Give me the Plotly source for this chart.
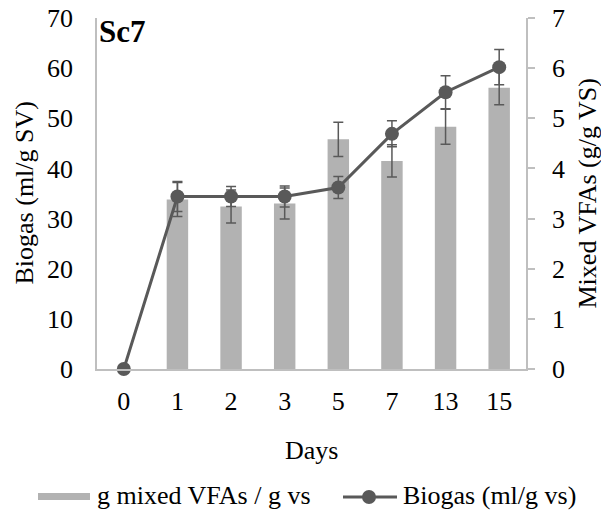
import plotly.graph_objects as go

# ---- data ----
days = ["0", "1", "2", "3", "5", "7", "13", "15"]
vfa = [None, 3.38, 3.24, 3.30, 4.58, 4.15, 4.83, 5.61]          # g mixed VFAs / g vs (right axis)
vfa_err = [None, 0.34, 0.33, 0.31, 0.34, 0.32, 0.35, 0.34]
biogas = [0, 34.4, 34.4, 34.4, 36.2, 46.9, 55.2, 60.2]             # Biogas ml/g vs (left axis)
biogas_err = [0, 3.0, 2.0, 2.1, 2.2, 2.6, 3.3, 3.5]
left_ticks = [0, 10, 20, 30, 40, 50, 60, 70]
right_ticks = [0, 1, 2, 3, 4, 5, 6, 7]

BAR = "#b2b2b2"
LINE = "#595959"
AX = "#bfbfbf"
FONT = "Liberation Serif"
FS = 26

W, H = 601, 525
L, R, T, B = 97, 75, 18, 156
PW, PH = W - L - R, H - T - B


def px_x(p):
    return (p - L) / PW


def px_y(p):
    return (H - B - p) / PH


fig = go.Figure()
fig.add_trace(go.Bar(
    x=days, y=vfa, yaxis="y2", width=0.4, marker=dict(color=BAR, line=dict(width=0)),
    error_y=dict(type="data", array=vfa_err, color=LINE, thickness=1.5, width=5),
    name="g mixed VFAs / g vs", showlegend=False,
))
fig.add_trace(go.Scatter(
    x=days, y=biogas, yaxis="y", mode="lines+markers",
    line=dict(color=LINE, width=3), marker=dict(color=LINE, size=14),
    error_y=dict(type="data", array=biogas_err, color=LINE, thickness=1.5, width=5),
    cliponaxis=False, name="Biogas (ml/g vs)", showlegend=False,
))

fig.update_layout(
    width=W, height=H, margin=dict(l=L, r=R, t=T, b=B, autoexpand=False),
    paper_bgcolor="white", plot_bgcolor="white",
    font=dict(family=FONT, size=FS, color="black"),
    showlegend=False,
    xaxis=dict(type="category", range=[-0.5, 7.5], showline=True, linecolor=AX, linewidth=1.5,
               ticks="", showgrid=False, zeroline=False, ticklabelstandoff=8,
               tickfont=dict(family=FONT, size=FS)),
    yaxis=dict(range=[0, 70], tickvals=left_ticks, side="left", overlaying="y2",
               showline=True, linecolor=AX, linewidth=1.5, ticks="", showgrid=False,
               zeroline=False, ticklabelstandoff=17, tickfont=dict(family=FONT, size=FS)),
    yaxis2=dict(range=[0, 7], tickvals=right_ticks, side="right", anchor="x",
                showline=True, linecolor=AX, linewidth=1.5, ticks="outside", ticklen=7,
                tickwidth=1.5, tickcolor=AX, showgrid=False, zeroline=False,
                ticklabelstandoff=12, tickfont=dict(family=FONT, size=FS)),
)

ann = [
    dict(text="<b>Sc7</b>", x=px_x(97), y=px_y(12), xanchor="left", yanchor="top", font=dict(size=31)),
    dict(text="Biogas (ml/g SV)", x=px_x(24), y=0.5, xanchor="center", yanchor="middle", textangle=-90),
    dict(text="Mixed VFAs (g/g VS)", x=px_x(587), y=0.5, xanchor="center", yanchor="middle", textangle=-90),
    dict(text="Days", x=0.5, y=px_y(450), xanchor="center", yanchor="middle"),
    dict(text="g mixed VFAs / g vs", x=px_x(95), y=px_y(495), xanchor="left", yanchor="middle"),
    dict(text="Biogas (ml/g vs)", x=px_x(401), y=px_y(495), xanchor="left", yanchor="middle"),
]
for a in ann:
    a.update(xref="paper", yref="paper", showarrow=False)
    a.setdefault("font", {})
    a["font"] = dict(family=FONT, size=a["font"].get("size", FS), color="black")
fig.update_layout(annotations=ann)

shapes = [
    dict(type="rect", xref="paper", yref="paper", x0=px_x(38), x1=px_x(90), y0=px_y(493), y1=px_y(500),
         fillcolor=BAR, line=dict(width=0)),
    dict(type="line", xref="paper", yref="paper", x0=px_x(343), x1=px_x(397), y0=px_y(497), y1=px_y(497),
         line=dict(color=LINE, width=3)),
    dict(type="circle", xref="paper", yref="paper", xsizemode="pixel", ysizemode="pixel",
         xanchor=px_x(369), yanchor=px_y(497), x0=-7, x1=7, y0=-7, y1=7,
         fillcolor=LINE, line=dict(width=0)),
]
fig.update_layout(shapes=shapes)

fig.write_html("out.html", config={"displayModeBar": False},
               post_script="document.body.style.margin='0';")
